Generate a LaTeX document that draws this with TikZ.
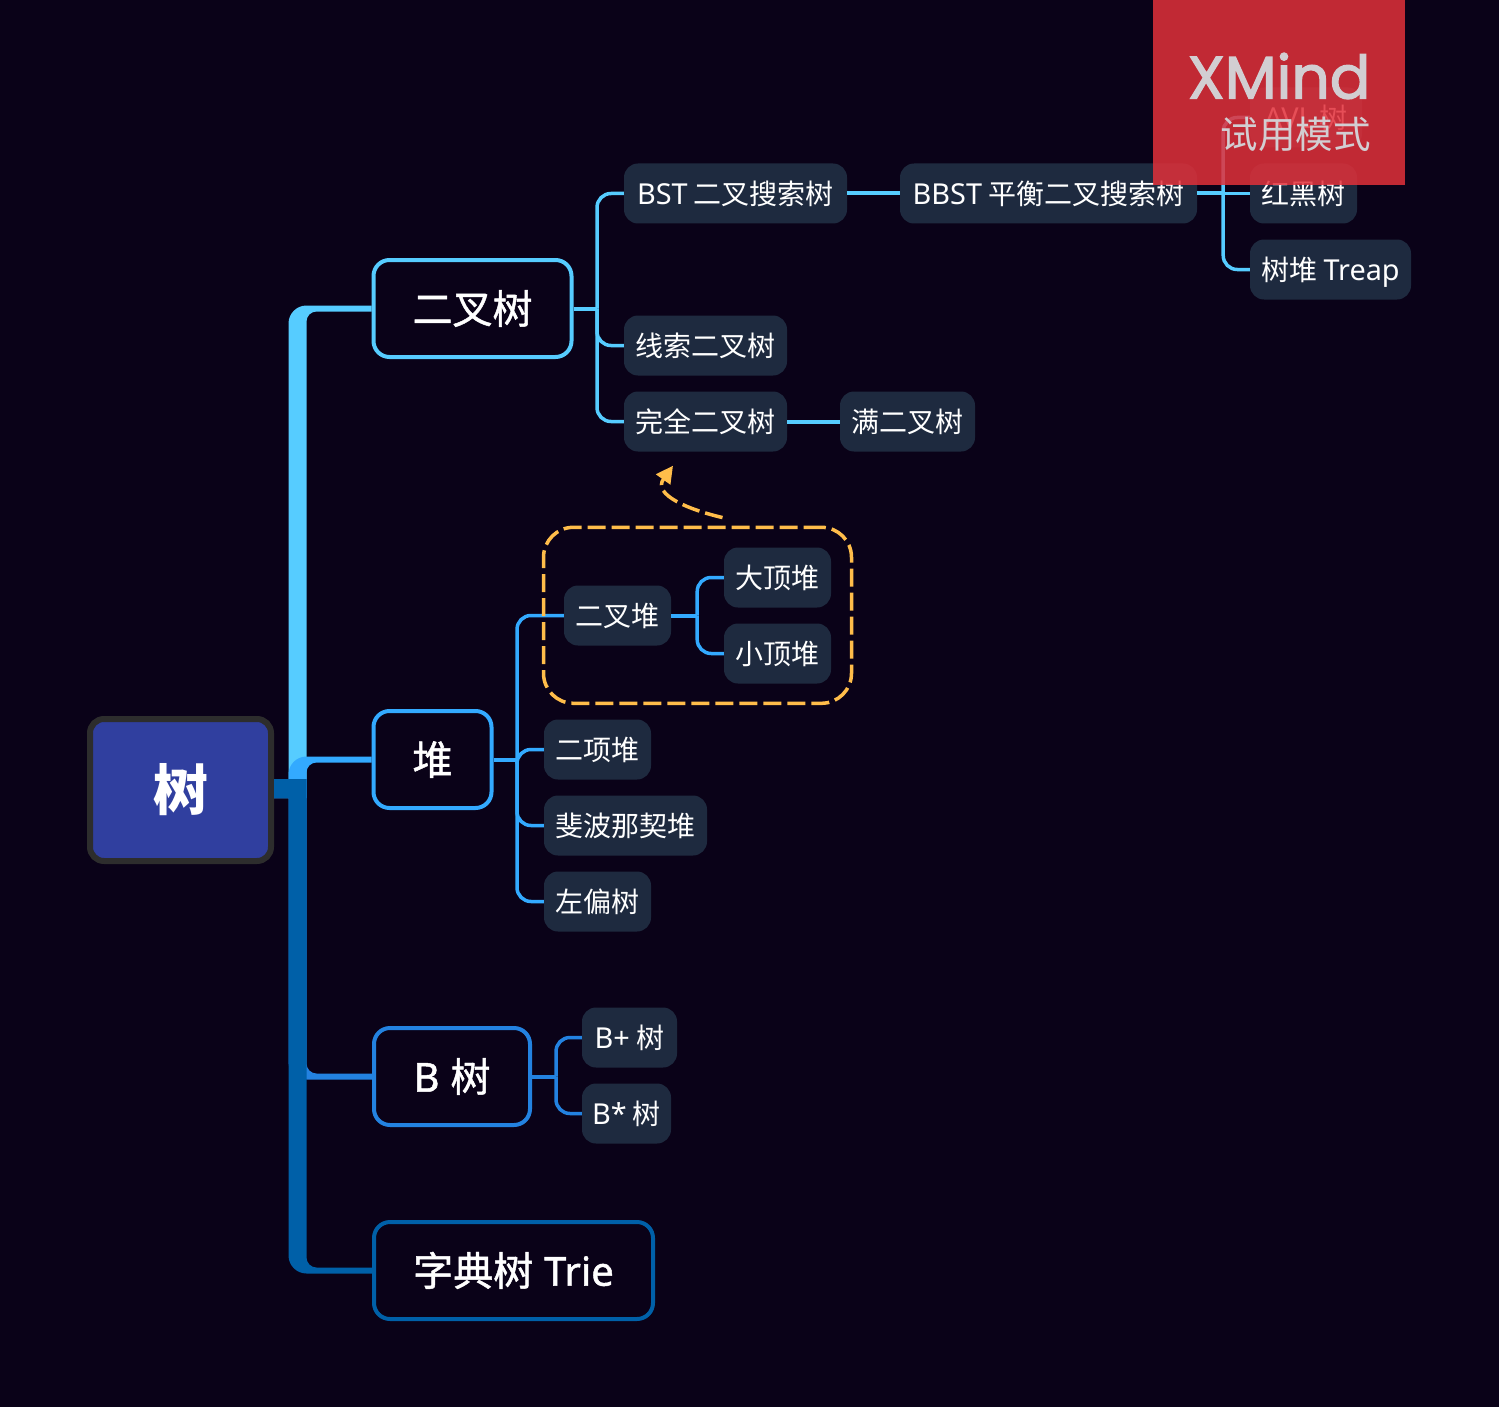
\documentclass[tikz,border=0pt]{standalone}
\usepackage{fontspec}
\setmainfont{Noto Sans CJK SC}
\newfontfamily\latinfont[Scale=1.03]{Noto Sans}
\newfontfamily\medcjk[FakeBold=1.2]{Noto Sans CJK SC}
\newfontfamily\medlatin[FakeBold=1.2]{Noto Sans}
\newfontfamily\markfont[FakeBold=2]{Poppins}
\usetikzlibrary{arrows.meta,calc}

\definecolor{bgcol}{HTML}{0A0218}
\definecolor{rootfill}{HTML}{303F9F}
\definecolor{rootline}{HTML}{2D2D2D}
\definecolor{subfill}{HTML}{1E2A3F}
\definecolor{colbtree}{HTML}{56CCFF}
\definecolor{colheap}{HTML}{33AAFF}
\definecolor{colb}{HTML}{2382E0}
\definecolor{coltrie}{HTML}{0060A8}
\definecolor{colrel}{HTML}{FFBD4A}
\definecolor{colmark}{HTML}{E2303A}
\definecolor{coltext}{HTML}{D2CED2}

\newcommand{\lat}[1]{{\latinfont #1}}
\newcommand{\medlat}[1]{{\medlatin #1}}
% Hauptast vom Stamm zum Thema (#3 = -1: nach oben, 1: nach unten)
\newcommand{\trunkbranch}[3]{%
\fill[#2] ($(root.east)+(0,-1.5-9.5*#3)$) -- ($(trunkr)+(0,-1.5-9.5*#3)$)
  [rounded corners=10pt] -- ($(trunkr |- #1.west)+(0,-3*#3)$)
  [sharp corners] -- ($(#1.west)+(0,-3*#3)$) -- ($(#1.west)+(0,3*#3)$)
  [rounded corners=18pt] -- ($(trunkl |- #1.west)+(0,3*#3)$)
  [sharp corners] -- ($(trunkl)+(0,-1.5+9.5*#3)$) -- ($(root.east)+(0,-1.5+9.5*#3)$) -- cycle;}

\tikzset{
  rootnode/.style={draw=rootline,fill=rootfill,line width=6pt,rounded corners=14pt,text=white,
    minimum width=181pt,minimum height=142pt,text height=49pt,text depth=8pt,
    font=\fontsize{55}{55}\selectfont\bfseries},
  topic/.style={draw=#1,fill=bgcol,line width=4pt,rounded corners=16pt,text=white,
    minimum height=97pt,inner sep=0pt,text height=34pt,text depth=3.6pt,font=\fontsize{40}{40}\medcjk},
  sub/.style={fill=subfill,rounded corners=14pt,text=white,minimum height=60pt,inner sep=0pt,
    text height=25pt,text depth=2.5pt,font=\fontsize{28}{28}\selectfont},
  link/.style={draw=#1,line width=3.5pt},
  fork/.style={draw=#1,line width=3.5pt,rounded corners=14pt},
  stem/.style={draw=#1,line width=4pt},
  boundary/.style={draw=colrel,line width=3.5pt,rounded corners=30pt,dash pattern=on 18pt off 6pt,
    minimum width=308pt,minimum height=176pt},
  relation/.style={draw=colrel,line width=3.5pt,dash pattern=on 18pt off 6pt,
    -{Triangle[length=17pt,width=17pt]}},
}

\begin{document}
\begin{tikzpicture}[x=1pt,y=-1pt]

\useasboundingbox (0,0) rectangle (1499,1407);
\fill[bgcol] (0,0) rectangle (1499,1407);

% Wurzel und Themen
\node[rootnode] (root) at (180.5,790) {树};
\node[topic=colbtree,minimum width=198pt] (btree) at (472.5,308.5) {二叉树};
\node[topic=colheap,minimum width=118pt] (heap) at (432.5,759.5) {堆};
\node[topic=colb,minimum width=156pt] (bt) at (452,1076.5) {\medlat{B} \hspace{2pt}树\hspace{2pt}};
\node[topic=coltrie,minimum width=279pt] (trie) at (513.5,1270.5) {字典树 \hspace{2pt}\medlat{Trie}\hspace{3pt}};

% Stamm
\coordinate (trunkl) at ($(root.east)+(14.5,0)$);
\coordinate (trunkr) at ($(root.east)+(32.5,0)$);
\trunkbranch{btree}{colbtree}{-1}
\trunkbranch{heap}{colheap}{-1}
\trunkbranch{bt}{colb}{1}
\trunkbranch{trie}{coltrie}{1}

% Unterthemen: Binaerbaum
\node[sub,minimum width=223pt] (bst) at (735.5,193.5) {\lat{BST} 二叉搜索树};
\node[sub,minimum width=297pt] (bbst) at (1048.5,193.5) {\lat{BBST} 平衡二叉搜索树};
\node[sub,minimum width=112pt] (avl) at (1306,117.5) {\lat{AVL} 树};
\node[sub,minimum width=107pt] (rb) at (1303.5,193.5) {红黑树};
\node[sub,minimum width=161pt] (treap) at (1330.5,269.5) {树堆 \lat{Treap}};
\node[sub,minimum width=163pt] (thread) at (705.5,345.5) {线索二叉树};
\node[sub,minimum width=163pt] (full) at (705.5,421.5) {完全二叉树};
\node[sub,minimum width=135pt] (perfect) at (907.5,421.5) {满二叉树};

% Unterthemen: Heap
\node[sub,minimum width=107pt] (binheap) at (617.5,615.5) {二叉堆};
\node[sub,minimum width=107pt] (maxheap) at (777.5,577.5) {大顶堆};
\node[sub,minimum width=107pt] (minheap) at (777.5,653.5) {小顶堆};
\node[sub,minimum width=107pt] (binom) at (597.5,749.5) {二项堆};
\node[sub,minimum width=163pt] (fib) at (625.5,825.5) {斐波那契堆};
\node[sub,minimum width=107pt] (leftist) at (597.5,901.5) {左偏树};

% Unterthemen: B-Baum
\node[sub,minimum width=95pt] (bplus) at (629.5,1037.5) {\lat{B+} 树};
\node[sub,minimum width=89pt] (bstar) at (626.5,1113.5) {\lat{B*} 树};

% Verzweigungen
\coordinate (jbtree) at ($(btree.east)+(23.5,0)$);
\draw[stem=colbtree] (btree.east)--(jbtree);
\draw[fork=colbtree] (jbtree) |- (bst.west);
\draw[fork=colbtree] (jbtree) |- (thread.west);
\draw[fork=colbtree] (jbtree) |- (full.west);
\draw[stem=colbtree] (bst.east)--(bbst.west);
\draw[stem=colbtree] (full.east)--(perfect.west);

\coordinate (jbbst) at ($(bbst.east)+(26,0)$);
\draw[stem=colbtree] (bbst.east)--(jbbst);
\draw[fork=colbtree] (jbbst) |- (avl.west);
\draw[link=colbtree] (jbbst)--(rb.west);
\draw[fork=colbtree] (jbbst) |- (treap.west);

\coordinate (jheap) at ($(heap.east)+(23.5,0)$);
\draw[stem=colheap] (heap.east)--(jheap);
\draw[fork=colheap] (jheap) |- (binheap.west);
\draw[fork=colheap] (jheap) |- (binom.west);
\draw[fork=colheap] (jheap) |- (fib.west);
\draw[fork=colheap] (jheap) |- (leftist.west);

\coordinate (jbin) at ($(binheap.east)+(26,0)$);
\draw[stem=colheap] (binheap.east)--(jbin);
\draw[fork=colheap] (jbin) |- (maxheap.west);
\draw[fork=colheap] (jbin) |- (minheap.west);

\coordinate (jbt) at ($(bt.east)+(24,0)$);
\draw[stem=colb] (bt.east)--(jbt);
\draw[fork=colb] (jbt) |- (bplus.west);
\draw[fork=colb] (jbt) |- (bstar.west);

% Umrandung und Beziehung
\node[boundary] (group) at (697.5,615.3) {};
\coordinate (relstart) at ($(group.north)+(25,-8)$);
\coordinate (relend) at ($(full.south)+(-32.5,14)$);
\draw[relation] (relstart) .. controls (690,510) and (652,495) .. (relend);

% Wasserzeichen
\fill[colmark,fill opacity=0.85] (1153,0) rectangle (1405,185);
\node[text=coltext,inner sep=0pt,font=\fontsize{60}{60}\markfont] (markname) at (1279,76) {XMind};
\node[text=coltext,inner sep=0pt,font=\fontsize{37.5}{37.5}\selectfont] (marktrial) at (1295.5,134.5) {试用模式};

\end{tikzpicture}
\end{document}
